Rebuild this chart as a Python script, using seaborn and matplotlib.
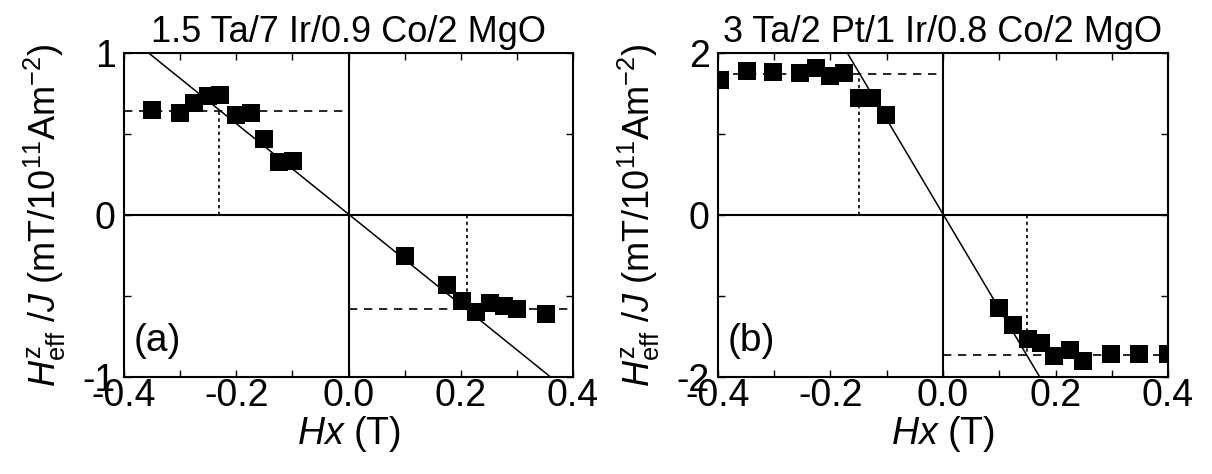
import numpy as np
import pandas as pd
import matplotlib
matplotlib.use("Agg")
import matplotlib.pyplot as plt
import seaborn as sns

# dados
# (a) 1.5 Ta/7 Ir/0.9 Co/2 MgO
hx_a = [-0.350, -0.301, -0.276, -0.250, -0.229, -0.200, -0.174, -0.150, -0.123, -0.099,
        0.100, 0.176, 0.202, 0.227, 0.252, 0.277, 0.301, 0.352]
hz_a = [0.647, 0.632, 0.690, 0.735, 0.741, 0.618, 0.632, 0.468, 0.330, 0.335,
        -0.255, -0.431, -0.528, -0.600, -0.542, -0.563, -0.583, -0.610]
fit_x_a = [-0.356, 0.360]
fit_y_a = [1.0, -1.0]
sat_a = [0.641, -0.579]      # linhas tracejadas horizontais
hk_a = [-0.230, 0.211]       # linhas pontilhadas verticais

# (b) 3 Ta/2 Pt/1 Ir/0.8 Co/2 MgO
hx_b = [-0.397, -0.349, -0.302, -0.254, -0.225, -0.200, -0.176, -0.150, -0.127, -0.101,
        0.099, 0.124, 0.151, 0.175, 0.198, 0.225, 0.248, 0.299, 0.349, 0.400]
hz_b = [1.67, 1.773, 1.765, 1.757, 1.814, 1.715, 1.757, 1.443, 1.443, 1.241,
        -1.142, -1.361, -1.526, -1.584, -1.740, -1.666, -1.802, -1.72, -1.72, -1.72]
fit_x_b = [-0.170, 0.172]
fit_y_b = [2.0, -2.0]
sat_b = [1.744, -1.728]
hk_b = [-0.150, 0.150]

titles = ["1.5 Ta/7 Ir/0.9 Co/2 MgO", "3 Ta/2 Pt/1 Ir/0.8 Co/2 MgO"]
tags = ["(a)", "(b)"]
ylims = [1, 2]

sns.set_style("ticks")
plt.rcParams['font.family'] = ['Liberation Sans', 'DejaVu Sans']
plt.rcParams['mathtext.fontset'] = 'custom'
plt.rcParams['mathtext.rm'] = 'Liberation Sans'
plt.rcParams['mathtext.it'] = 'Liberation Sans:italic'
plt.rcParams['axes.unicode_minus'] = False
plt.rcParams['text.color'] = 'black'
plt.rcParams['axes.labelcolor'] = 'black'
plt.rcParams['xtick.color'] = 'black'
plt.rcParams['ytick.color'] = 'black'

fig = plt.figure(figsize=(12.12, 4.74), dpi=100)
ax1 = fig.add_axes([0.1023, 0.2046, 0.3705, 0.6835])
ax2 = fig.add_axes([0.5924, 0.2046, 0.3713, 0.6835])

paineis = [
    (ax1, hx_a, hz_a, fit_x_a, fit_y_a, sat_a, hk_a),
    (ax2, hx_b, hz_b, fit_x_b, fit_y_b, sat_b, hk_b),
]

for i, (ax, hx, hz, fx, fy, sat, hk) in enumerate(paineis):
    df = pd.DataFrame({"Hx": hx, "Hz": hz})
    lim = ylims[i]
    ax.set_xlim(-0.4, 0.4)
    ax.set_ylim(-lim, lim)

    # eixos do zero
    ax.axhline(0, color='black', lw=1.5, zorder=1)
    ax.axvline(0, color='black', lw=1.5, zorder=1)

    # ajuste linear
    sns.lineplot(x=fx, y=fy, ax=ax, color='black', lw=1.1, zorder=2)

    # tracejadas / pontilhadas
    ax.plot([-0.4, 0], [sat[0], sat[0]], color='black', lw=1.2, ls=(0, (5, 4)), zorder=2)
    ax.plot([0, 0.4], [sat[1], sat[1]], color='black', lw=1.2, ls=(0, (5, 4)), zorder=2)
    ax.plot([hk[0], hk[0]], [0, sat[0]], color='black', lw=1.2, ls=(0, (2, 2)), zorder=2)
    ax.plot([hk[1], hk[1]], [0, sat[1]], color='black', lw=1.2, ls=(0, (2, 2)), zorder=2)

    sns.scatterplot(data=df, x="Hx", y="Hz", ax=ax, marker='s', s=175,
                    color='black', linewidth=0, zorder=3)

    ax.set_xticks([-0.4, -0.2, 0.0, 0.2, 0.4])
    ax.set_xticklabels(["-0.4", "-0.2", "0.0", "0.2", "0.4"])
    ax.set_xticks(np.arange(-0.4, 0.41, 0.1), minor=True)
    ax.set_yticks([-lim, 0, lim])
    ax.set_yticks([-lim, -lim / 2, 0, lim / 2, lim], minor=True)
    ax.tick_params(which='both', direction='in', top=True, right=True,
                   length=5, width=1, labelsize=27)
    ax.tick_params(axis='x', pad=1)
    ax.tick_params(axis='y', pad=6)
    for s in ax.spines.values():
        s.set_linewidth(1.5)
        s.set_color('black')

    ax.set_title(titles[i], fontsize=26, pad=8)
    ax.set_xlabel(r'$Hx$ (T)', fontsize=27, labelpad=0)
    ax.set_ylabel(r'$H^{\rm z}_{\rm eff}$ /$J$ (mT/10$^{11}$Am$^{-2}$)', fontsize=26)
    ax.yaxis.set_label_coords(-0.125, 0.5)
    ax.text(0.022, 0.055, tags[i], transform=ax.transAxes, fontsize=28,
            ha='left', va='bottom')

plt.savefig("out.png", dpi=100)
